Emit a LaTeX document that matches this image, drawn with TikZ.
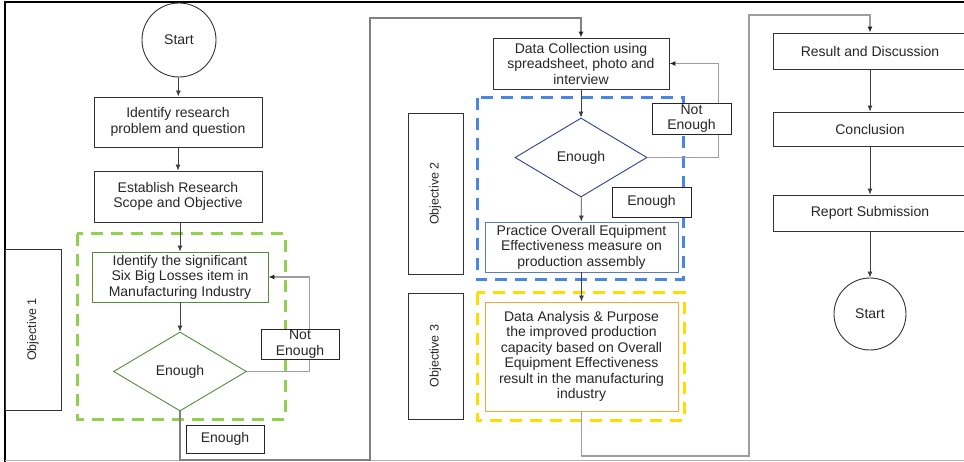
\documentclass[tikz,border=0pt]{standalone}
\usepackage{fontspec}
\setmainfont{Liberation Sans}
\usetikzlibrary{
  shapes.geometric,
  arrows.meta
}
\definecolor{zonegreen}{RGB}{146,208,80}
\definecolor{boxgreen}{RGB}{84,140,60}
\definecolor{zoneblue}{RGB}{74,134,232}
\definecolor{boxblue}{RGB}{91,125,181}
\definecolor{navy}{RGB}{47,64,143}
\definecolor{zoneyellow}{RGB}{255,221,0}
\definecolor{boxorange}{RGB}{240,170,50}

\begin{document}
\begin{tikzpicture}[x=1pt, y=-1pt,
    every node/.style = {font=\fontsize{14}{15.5}\selectfont,
      text=black!85, align=center, inner sep=0pt},
    procbox/.style = {shape=rectangle, draw=black!80, line width=0.9pt},
    decision/.style = {shape=diamond, line width=0.9pt,
      minimum width=133, minimum height=79},
    terminal/.style = {shape=circle, draw=black!80, line width=0.9pt,
      minimum size=74},
    objbox/.style = {shape=rectangle, draw=black!80, line width=0.9pt,
      rotate=90, font=\fontsize{12.5}{14}\selectfont},
    tag/.style = {shape=rectangle, draw=black!85, line width=0.9pt,
      fill=white, minimum width=78, minimum height=30},
    zone/.style = {line width=3pt, dash pattern=on 12pt off 8pt},
    link/.style = {draw=black!75, line width=0.8pt,
      -{Latex[length=6pt,width=5pt]}},
    route/.style = {draw=black!38, line width=1.2pt,
      -{Latex[length=6pt,width=5pt,color=black!85]}}]
  \useasboundingbox (0,0) rectangle (964,462);
  \clip (0,0) rectangle (964,462);

  \draw[line width=2pt] (5,462) -- (5,2) -- (964,2);
  \draw[black!30, line width=1.5pt] (5,460.5) -- (964,460.5);

  \draw[zone, zonegreen] (77,234) rectangle (285,419);
  \draw[zone, zoneblue] (477,98) rectangle (683,280);
  \draw[zone, zoneyellow] (477,293) rectangle (684,420);

  \node[terminal] (start) at (179,40) {Start};
  \node[procbox, minimum width=168, minimum height=50] (problem) at (178,122)
    {Identify research\\problem and question};
  \node[procbox, minimum width=168, minimum height=51] (scope) at (178,196.5)
    {Establish Research\\Scope and Objective};
  \node[procbox, draw=boxgreen, minimum width=176, minimum height=50] (losses) at (180,277)
    {Identify the significant\\Six Big Losses item in\\Manufacturing Industry};
  \node[decision, draw=boxgreen] (check1) at (180,371.5) {Enough};
  \node[objbox, minimum width=161, minimum height=56] (obj1) at (33,329.5) {Objective 1};

  \node[procbox, minimum width=176, minimum height=51] (collect) at (581,63.5)
    {Data Collection using\\spreadsheet, photo and\\interview};
  \node[decision, draw=navy, minimum width=132] (check2) at (581,157.5) {Enough};
  \node[procbox, draw=boxblue, minimum width=193, minimum height=50] (oee) at (581.5,247)
    {Practice Overall Equipment\\Effectiveness measure on\\production assembly};
  \node[procbox, draw=boxorange, minimum width=193, minimum height=109] (analysis) at (581.5,356.5)
    {Data Analysis \& Purpose\\the improved production\\capacity based on Overall\\Equipment Effectiveness\\result in the manufacturing\\industry};
  \node[objbox, minimum width=161, minimum height=55] (obj2) at (435.5,193.5) {Objective 2};
  \node[objbox, minimum width=126, minimum height=55] (obj3) at (435.5,356) {Objective 3};

  \node[procbox, minimum width=194, minimum height=36] (result) at (870,51) {Result and Discussion};
  \node[procbox, minimum width=194, minimum height=34] (concl) at (870,129) {Conclusion};
  \node[procbox, minimum width=194, minimum height=36] (report) at (870,213) {Report Submission};
  \node[terminal, minimum size=72] (finish) at (870,314) {Start};

  \coordinate (bendA) at (370,460);
  \coordinate (bendB) at (370,18);
  \coordinate (bendC) at (749,456);
  \coordinate (bendD) at (749,15);

  \draw[link] (start) -- (problem);
  \draw[link] (problem) -- (problem.south |- scope.north);
  \draw[link] (scope.south -| losses.north) -- (losses);
  \draw[link] (losses) -- (check1);
  \draw[route] (check1.east) -- ++(62.5,0) |- (losses.east);
  \draw[route, draw=black!50] (check1.south) |- (bendA) -- (bendB) -| (collect.north);

  \draw[link] (collect) -- (check2);
  \draw[route] (check2.east) -- ++(71,0) |- (collect.east);
  \draw[link] (check2) -- (oee);
  \draw[link] (oee) -- (analysis);
  \draw[route] (analysis.south) |- (bendC) -- (bendD) -| (result.north);

  \draw[link] (result) -- (concl);
  \draw[link] (concl) -- (report);
  \draw[link] (report) -- (finish);

  \node[tag] (notyet1) at (300,344) {Not\\Enough};
  \node[tag, minimum height=28] (ok1) at (225,439) {Enough};
  \node[tag, minimum width=79, minimum height=31] (notyet2) at (691.5,118.5) {Not\\Enough};
  \node[tag, minimum width=79] (ok2) at (651.5,202) {Enough};
\end{tikzpicture}
\end{document}
